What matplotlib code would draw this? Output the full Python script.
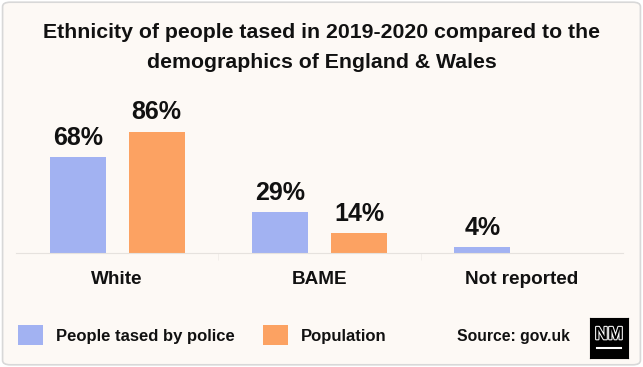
import numpy as np
import matplotlib.pyplot as plt
import matplotlib.patheffects as pe
from matplotlib.patches import FancyBboxPatch

categories = ["White", "BAME", "Not reported"]
tased = [68, 29, 4]
population = [86, 14, 0]
series_names = ["People tased by police", "Population"]

blue = "#A2B2F2"
orange = "#FCA262"
bg = "#FDF9F5"

plt.rcParams['font.family'] = ['Liberation Sans', 'DejaVu Sans']

fig = plt.figure(figsize=(6.43, 3.67), dpi=100)
fig.patch.set_facecolor("white")
fig.add_artist(FancyBboxPatch((0.004, 0.006), 0.992, 0.988, boxstyle="round,pad=0,rounding_size=0.012",
                              transform=fig.transFigure, facecolor=bg, edgecolor="#D8D8D8", lw=1.2,
                              zorder=-10))

ax = fig.add_axes([16 / 643, 1 - 253 / 367, 607 / 643, 153 / 367])
ax.set_facecolor("none")
x = np.arange(len(categories))
w = 0.276
off = 0.195
b1 = ax.bar(x - off, tased, w, color=blue, label=series_names[0])
b2 = ax.bar(x + off, population, w, color=orange, label=series_names[1])

for bars, vals in [(b1, tased), (b2, population)]:
    for bar, v in zip(bars, vals):
        if v == 0:
            continue
        ax.text(bar.get_x() + bar.get_width() / 2, v + 9, f"{v}%", ha="center", va="baseline",
                fontsize=18, fontweight="bold", color="#111111")

ax.set_xlim(-0.5, len(categories) - 0.5)
ax.set_ylim(0, 153 / 1.407)
ax.set_yticks([])
for s in ["top", "right", "left"]:
    ax.spines[s].set_visible(False)
ax.spines["bottom"].set_color("#E6E2DE")
ax.set_xticks(x)
ax.set_xticklabels(categories, fontsize=13.6, fontweight="bold", color="#111111")
ax.tick_params(axis="x", length=0, pad=13)
ax.set_xticks([0.5, 1.5], minor=True)
ax.tick_params(axis="x", which="minor", length=5, color="#F1EDE9")

fig.text(0.5, 1 - 33 / 367, "Ethnicity of people tased in 2019-2020 compared to the",
         ha="center", va="center", fontsize=15.3, fontweight="bold", color="#111111")
fig.text(0.5, 1 - 62 / 367, "demographics of England & Wales",
         ha="center", va="center", fontsize=15.3, fontweight="bold", color="#111111")

fig.legend(handles=[b1, b2], labels=series_names, loc="center left",
           bbox_to_anchor=(3 / 643, 1 - 335 / 367), ncol=2, frameon=False,
           prop={"size": 12, "weight": "bold"}, handlelength=1.5, handleheight=1.5,
           handletextpad=0.75, columnspacing=1.75, labelcolor="#111111")

fig.text(570 / 643, 1 - 336 / 367, "Source: gov.uk", ha="right", va="center",
         fontsize=11.3, fontweight="bold", color="#111111")

lax = fig.add_axes([590 / 643, 1 - 358 / 367, 38 / 643, 40 / 367])
lax.set_facecolor("black")
lax.set_xticks([])
lax.set_yticks([])
lax.text(0.5, 0.58, "NM", ha="center", va="center", color="black", fontsize=13,
         fontweight="bold", transform=lax.transAxes,
         path_effects=[pe.withStroke(linewidth=1.5, foreground="white")])
lax.plot([0.18, 0.82], [0.25, 0.25], color="white", lw=1.5, transform=lax.transAxes)
lax.set_xlim(0, 1)
lax.set_ylim(0, 1)

fig.savefig("out.png", dpi=100, facecolor=fig.get_facecolor())
